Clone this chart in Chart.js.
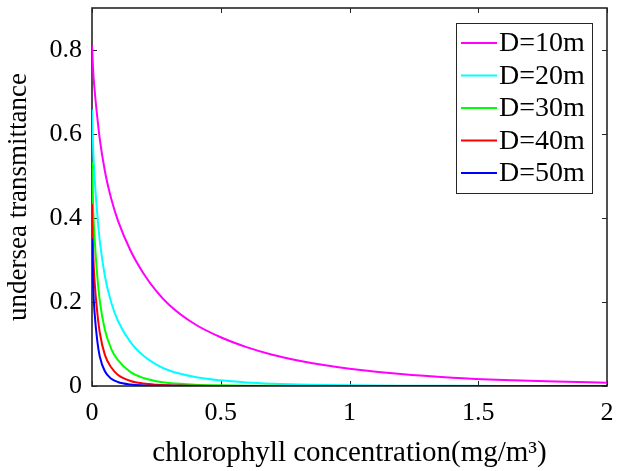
<!DOCTYPE html>
<html><head><meta charset="utf-8">
<script src="https://cdn.jsdelivr.net/npm/chart.js@4"></script>
<style>html,body{margin:0;padding:0;background:#fff}#wrap{width:617px;height:471px}</style>
</head><body><div id="wrap"><canvas id="c" width="617" height="471"></canvas></div>
<script>
// ---- data ----
const conc = [0, 0.005, 0.01, 0.02, 0.03, 0.05, 0.075, 0.1, 0.15, 0.2, 0.25, 0.3, 0.4, 0.5, 0.6, 0.7, 0.8, 0.9, 1.0, 1.2, 1.4, 1.6, 1.8, 2.0];
const seriesLabels = ['D=10m', 'D=20m', 'D=30m', 'D=40m', 'D=50m'];
const d10 = [0.811, 0.745, 0.706, 0.643, 0.589, 0.512, 0.445, 0.395, 0.322, 0.268, 0.226, 0.193, 0.147, 0.116, 0.0926, 0.0746, 0.0608, 0.0498, 0.041, 0.0283, 0.0199, 0.0143, 0.0105, 0.0078];
const d20 = [0.658, 0.555, 0.498, 0.413, 0.347, 0.262, 0.198, 0.156, 0.104, 0.072, 0.051, 0.037, 0.0216, 0.0135, 0.0086, 0.0056, 0.0037, 0.0025, 0.0017, 0.0008, 0.0004, 0.0002, 0.0001, 0.0001];
const d30 = [0.533, 0.414, 0.352, 0.266, 0.204, 0.134, 0.088, 0.062, 0.033, 0.019, 0.0115, 0.0072, 0.0032, 0.0016, 0.0008, 0.0004, 0.0002, 0.0001, 0.0001, 0, 0, 0, 0, 0];
const d40 = [0.433, 0.31, 0.25, 0.178, 0.128, 0.074, 0.044, 0.027, 0.012, 0.0058, 0.003, 0.0016, 0.0005, 0.0002, 0.0001, 0, 0, 0, 0, 0, 0, 0, 0, 0];
const d50 = [0.351, 0.23, 0.175, 0.11, 0.071, 0.035, 0.0174, 0.0096, 0.0035, 0.0014, 0.0006, 0.0003, 0.0001, 0, 0, 0, 0, 0, 0, 0, 0, 0, 0, 0];
const xTicks = [0, 0.5, 1, 1.5, 2];
const xTickLabels = ['0', '0.5', '1', '1.5', '2'];
const yTicks = [0, 0.2, 0.4, 0.6, 0.8];
const yTickLabels = ['0', '0.2', '0.4', '0.6', '0.8'];
const xTitle = 'chlorophyll concentration(mg/m³)';
const yTitle = 'undersea transmittance';

const colors = ['#ff00ff', '#00ffff', '#00ff00', '#ff0000', '#0000ff'];
const allSeries = [d10, d20, d30, d40, d50];
const FONT = '"Liberation Serif", "Times New Roman", Times, serif';
const AX = '#262626';

const datasets = allSeries.map((s, i) => ({
  label: seriesLabels[i],
  data: conc.map((x, k) => ({x: x, y: s[k]})),
  borderColor: colors[i],
  backgroundColor: colors[i],
  borderWidth: 2,
  pointRadius: 0,
  fill: false,
  cubicInterpolationMode: 'monotone',
  order: allSeries.length - i
}));

const boxPlugin = {
  id: 'matlabBox',
  beforeDatasetsDraw(chart) {
    const {ctx, chartArea: a, scales} = chart;
    ctx.save();
    ctx.strokeStyle = AX;
    ctx.lineWidth = 1;
    const tl = 5;
    ctx.beginPath();
    scales.x.ticks.forEach(t => {
      const px = Math.round(scales.x.getPixelForValue(t.value)) + 0.5;
      ctx.moveTo(px, a.bottom); ctx.lineTo(px, a.bottom - tl);
      ctx.moveTo(px, a.top); ctx.lineTo(px, a.top + tl);
    });
    scales.y.ticks.forEach(t => {
      const py = Math.round(scales.y.getPixelForValue(t.value)) + 0.5;
      ctx.moveTo(a.left, py); ctx.lineTo(a.left + tl, py);
      ctx.moveTo(a.right, py); ctx.lineTo(a.right - tl, py);
    });
    ctx.stroke();
    ctx.lineWidth = 1.6;
    ctx.strokeRect(a.left, a.top, a.right - a.left, a.bottom - a.top);
    ctx.restore();
  }
};

const legendPlugin = {
  id: 'insideLegend',
  afterDatasetsDraw(chart) {
    const {ctx} = chart;
    const x0 = 456, y0 = 23, w = 136, h = 170;
    ctx.save();
    ctx.fillStyle = '#ffffff';
    ctx.fillRect(x0, y0, w, h);
    ctx.strokeStyle = AX;
    ctx.lineWidth = 1;
    ctx.strokeRect(x0 + 0.5, y0 + 0.5, w, h);
    ctx.font = '28px ' + FONT;
    ctx.textBaseline = 'middle';
    ctx.textAlign = 'left';
    chart.data.datasets.forEach((ds, i) => {
      const cy = y0 + 20 + i * 32.5;
      ctx.strokeStyle = ds.borderColor;
      ctx.lineWidth = 2;
      ctx.beginPath();
      ctx.moveTo(x0 + 5, cy); ctx.lineTo(x0 + 41, cy);
      ctx.stroke();
      ctx.fillStyle = '#000000';
      ctx.fillText(ds.label, x0 + 43, cy + 1);
    });
    ctx.restore();
  }
};

new Chart(document.getElementById('c'), {
  type: 'line',
  data: {datasets: datasets},
  options: {
    responsive: false,
    animation: false,
    devicePixelRatio: 1,
    layout: {padding: {left: 0, right: 10, top: 8, bottom: 0}},
    plugins: {legend: {display: false}, tooltip: {enabled: false}},
    scales: {
      x: {
        type: 'linear', min: 0, max: 2,
        afterBuildTicks: s => { s.ticks = xTicks.map(v => ({value: v})); },
        afterFit: s => { s.height = 85; s.paddingLeft = 0; s.paddingRight = 0; s.paddingTop = 0; s.paddingBottom = 0; },
        grid: {display: false, drawTicks: false},
        border: {display: false},
        ticks: {padding: 12, color: '#000', maxRotation: 0, autoSkip: false,
          font: {family: FONT, size: 26},
          callback: (v, i) => xTickLabels[i]},
        title: {display: true, text: xTitle, color: '#000',
          font: {family: FONT, size: 29, lineHeight: 1}, padding: {top: 0, bottom: 3}}
      },
      y: {
        type: 'linear', min: 0, max: 0.9,
        afterBuildTicks: s => { s.ticks = yTicks.map(v => ({value: v})); },
        afterFit: s => { s.width = 92; s.paddingLeft = 0; s.paddingRight = 0; s.paddingTop = 0; s.paddingBottom = 0; },
        grid: {display: false, drawTicks: false},
        border: {display: false},
        ticks: {padding: 10, color: '#000', autoSkip: false,
          font: {family: FONT, size: 26},
          callback: (v, i) => yTickLabels[i]},
        title: {display: true, text: yTitle, color: '#000',
          font: {family: FONT, size: 27, lineHeight: 1}, padding: {top: 5, bottom: 0}}
      }
    }
  },
  plugins: [boxPlugin, legendPlugin]
});
</script>
</body></html>
